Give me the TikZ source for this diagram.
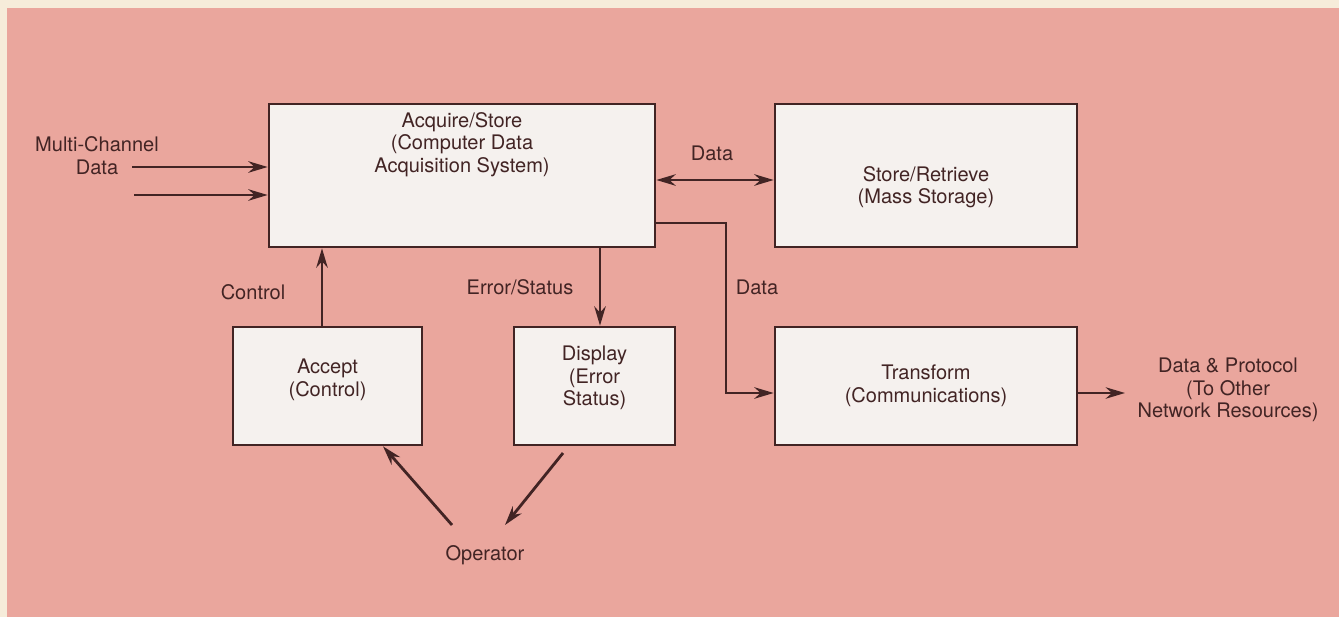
\documentclass[tikz,border=0pt]{standalone}
\usepackage{fontspec}
\setmainfont{TeX Gyre Heros}
\usetikzlibrary{arrows.meta,positioning}

\definecolor{paper}{RGB}{246,236,218}
\definecolor{salmon}{RGB}{234,166,157}
\definecolor{boxfill}{RGB}{245,241,238}
\definecolor{ink}{RGB}{66,36,36}

\tikzset{
  box/.style={draw=ink, line width=1.5pt, fill=boxfill, inner sep=0pt},
  txt/.style={text=ink, align=center, font=\fontsize{11.4}{12.8}\selectfont, inner sep=1pt},
  flow/.style={draw=ink, line width=1.6pt, ->},
}

\begin{document}
\begin{tikzpicture}[x=1cm, y=1cm, >={Stealth[length=11pt,width=6.5pt]}]

	% 1. Nền
	\fill[paper] (0,0) rectangle (26.78,12.34);
	\fill[salmon] (0.14,0) rectangle (26.78,12.18);
	\useasboundingbox (0,0) rectangle (26.78,12.34);

	% 2. Các khối
	\node[box, minimum width=7.72cm, minimum height=2.86cm] (acq) at (9.24,8.83) {};
	\node[box, minimum width=6.04cm, minimum height=2.86cm] (store) at (18.52,8.83) {};
	\node[box, minimum width=3.78cm, minimum height=2.36cm] (accept) at (6.55,4.62) {};
	\node[box, minimum width=3.22cm, minimum height=2.36cm] (disp) at (11.89,4.62) {};
	\node[box, minimum width=6.04cm, minimum height=2.36cm] (trans) at (18.52,4.62) {};

	% 3. Chữ trong khối
	\node[txt] (acqtxt) at (9.24,9.45) {Acquire/Store\\(Computer Data\\Acquisition System)};
	\node[txt] (storetxt) at (18.52,8.6) {Store/Retrieve\\(Mass Storage)};
	\node[txt] (accepttxt) at (6.55,4.74) {Accept\\(Control)};
	\node[txt] (disptxt) at (11.89,4.78) {Display\\(Error\\Status)};
	\node[txt] (transtxt) at (18.52,4.62) {Transform\\(Communications)};

	% 4. Nhãn ngoài
	\node[txt] (mc) at (1.94,9.23) {Multi-Channel\\Data};
	\node[txt] (dtop) at (14.24,9.28) {Data};
	\node[txt] (dmid) at (15.14,6.6) {Data};
	\node[txt] (err) at (10.4,6.6) {Error/Status};
	\node[txt] (ctrl) at (5.06,6.5) {Control};
	\node[txt] (out) at (24.56,4.54) {Data \& Protocol\\(To Other\\Network Resources)};
	\node[txt] (op) at (9.7,1.24) {Operator};

	% 5. Mũi tên
	\coordinate (in1) at (2.64,9.0);
	\coordinate (in2) at (2.68,8.44);
	\draw[flow] (in1) -- (in1 -| acq.west);
	\draw[flow] (in2) -- (in2 -| acq.west);
	\draw[flow, <->] (acq.east |- 0,8.74) -- (store.west |- 0,8.74);
	\draw[flow] (acq.east |- 0,7.88) -| (14.52,4.48) -- (trans.west |- 0,4.48);
	\draw[flow] (acq.south -| 12.0,0) -- (disp.north -| 12.0,0);
	\draw[flow] (accept.north -| 6.44,0) -- (acq.south -| 6.44,0);
	\coordinate (outend) at (22.5,4.48);
	\draw[flow] (trans.east |- outend) -- (outend);
	\coordinate (opa) at (9.04,1.84);
	\coordinate (opb) at (10.1,1.84);
	\draw[flow] (opa) -- (accept.south -| 7.66,0);
	\draw[flow] (11.26,3.28) -- (opb);

\end{tikzpicture}
\end{document}
